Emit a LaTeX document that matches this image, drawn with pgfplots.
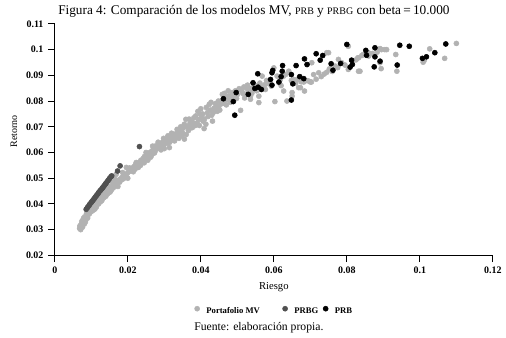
\documentclass[border=0pt]{standalone}
\usepackage{fontspec}
\setmainfont{Liberation Serif}
\usepackage{pgfplots}
\pgfplotsset{compat=1.18}
\definecolor{mvgray}{RGB}{178,178,178}
\definecolor{prbggray}{RGB}{80,80,80}
\begin{document}
\begin{tikzpicture}
\begin{axis}[
  name=ax,
  at={(0,0)}, anchor=south west,
  width=330pt, height=174.375pt, scale only axis,
  xmin=0, xmax=0.12, ymin=0.02, ymax=0.11,
  axis x line*=bottom, axis y line*=left,
  axis line style={black, line width=0.7pt, -},
  tick align=outside, major tick length=5pt,
  tick style={black, line width=0.7pt},
  scaled ticks=false,
  xtick={0,0.02,0.04,0.06,0.08,0.1,0.12},
  xticklabels={0,0.02,0.04,0.06,0.08,0.1,0.12},
  ytick={0.02,0.03,0.04,0.05,0.06,0.07,0.08,0.09,0.1,0.11},
  yticklabels={0.02,0.03,0.04,0.05,0.06,0.07,0.08,0.09,0.1,0.11},
  ticklabel style={font=\bfseries\fontsize{7.5}{9}\selectfont},
  clip=false,
  legend columns=3,
  legend style={draw=none, fill=none, at={(0.502,-0.243)}, anchor=center,
    font=\bfseries\fontsize{6.5}{8}\selectfont,
    /tikz/every even column/.append style={column sep=1.5pt}},
  legend image code/.code={\draw[#1] plot coordinates {(0pt,2.2pt)}; \path[draw=none, fill=none] (-2pt,0pt) -- (5pt,0pt);},
]
\addplot[only marks, mark=*, mark size=1.9pt, color=mvgray] coordinates {
(0.0068,0.0305)(0.0070,0.0312)(0.0072,0.0320)(0.0071,0.0300)(0.0075,0.0318)(0.0078,0.0326)(0.0074,0.0332)(0.0080,0.0335)(0.0083,0.0340)(0.0079,0.0345)(0.0086,0.0348)(0.0088,0.0355)(0.0084,0.0330)(0.0091,0.0360)(0.0093,0.0368)(0.0096,0.0372)(0.0090,0.0345)(0.0099,0.0378)(0.0102,0.0385)(0.0105,0.0383)(0.0108,0.0392)(0.0111,0.0398)(0.0114,0.0388)(0.0117,0.0405)(0.0120,0.0410)
(0.0069,0.0315)(0.0073,0.0308)(0.0076,0.0310)(0.0077,0.0338)(0.0081,0.0322)(0.0085,0.0338)(0.0082,0.0350)(0.0087,0.0362)
(0.0090,0.0352)(0.0095,0.0362)(0.0100,0.0370)(0.0105,0.0375)(0.0110,0.0380)(0.0115,0.0395)(0.0120,0.0400)(0.0125,0.0408)(0.0130,0.0420)(0.0135,0.0425)(0.0140,0.0430)(0.0145,0.0440)(0.0150,0.0445)(0.0155,0.0455)(0.0160,0.0462)(0.0165,0.0470)(0.0170,0.0475)(0.0178,0.0485)(0.0185,0.0495)(0.0190,0.0500)(0.0098,0.0390)(0.0108,0.0405)(0.0118,0.0420)(0.0128,0.0435)(0.0138,0.0452)(0.0148,0.0468)(0.0158,0.0483)(0.0166,0.0495)
(0.0123,0.0416)(0.0126,0.0420)(0.0129,0.0413)(0.0132,0.0428)(0.0135,0.0434)(0.0138,0.0440)(0.0141,0.0436)(0.0144,0.0447)(0.0147,0.0452)(0.0150,0.0456)(0.0153,0.0449)(0.0156,0.0462)(0.0159,0.0470)(0.0162,0.0475)(0.0166,0.0480)(0.0170,0.0486)(0.0173,0.0468)(0.0176,0.0492)(0.0180,0.0497)(0.0184,0.0503)(0.0188,0.0510)(0.0192,0.0515)(0.0196,0.0509)(0.0200,0.0500)(0.0200,0.0522)(0.0205,0.0527)(0.0209,0.0533)(0.0213,0.0540)(0.0217,0.0545)(0.0221,0.0552)(0.0225,0.0557)(0.0229,0.0542)(0.0232,0.0562)
(0.0160,0.0505)(0.0168,0.0515)(0.0186,0.0522)(0.0196,0.0542)(0.0223,0.0561)
(0.0205,0.0540)(0.0215,0.0525)(0.0220,0.0535)(0.0235,0.0550)(0.0245,0.0560)(0.0250,0.0600)(0.0255,0.0570)(0.0265,0.0590)(0.0268,0.0625)(0.0275,0.0605)(0.0283,0.0640)(0.0290,0.0625)(0.0298,0.0655)(0.0300,0.0615)(0.0310,0.0665)(0.0315,0.0640)(0.0320,0.0675)(0.0328,0.0645)(0.0335,0.0690)(0.0340,0.0655)(0.0345,0.0700)(0.0348,0.0665)
(0.0236,0.0570)(0.0240,0.0565)(0.0243,0.0578)(0.0246,0.0585)(0.0250,0.0575)(0.0254,0.0593)(0.0257,0.0588)(0.0260,0.0600)(0.0263,0.0582)(0.0266,0.0606)(0.0270,0.0612)(0.0273,0.0598)(0.0277,0.0626)(0.0280,0.0615)(0.0284,0.0622)(0.0288,0.0632)(0.0291,0.0610)(0.0295,0.0640)(0.0299,0.0628)(0.0302,0.0645)(0.0305,0.0652)(0.0309,0.0636)(0.0312,0.0660)(0.0314,0.0619)(0.0318,0.0648)(0.0322,0.0664)(0.0326,0.0656)(0.0330,0.0672)(0.0334,0.0660)(0.0338,0.0680)(0.0342,0.0668)(0.0346,0.0688)(0.0350,0.0676)(0.0355,0.0652)(0.0352,0.0695)
(0.0355,0.0710)(0.0360,0.0670)(0.0368,0.0730)(0.0372,0.0695)(0.0380,0.0715)(0.0385,0.0705)(0.0392,0.0760)(0.0396,0.0705)(0.0400,0.0770)(0.0405,0.0750)(0.0410,0.0730)(0.0415,0.0775)(0.0420,0.0740)(0.0428,0.0795)(0.0434,0.0755)(0.0442,0.0775)(0.0448,0.0800)(0.0452,0.0765)(0.0458,0.0790)(0.0465,0.0830)(0.0470,0.0785)(0.0475,0.0840)(0.0483,0.0815)(0.0488,0.0805)(0.0493,0.0828)(0.0498,0.0810)
(0.0359,0.0729)(0.0362,0.0700)(0.0366,0.0685)(0.0370,0.0712)(0.0374,0.0720)(0.0377,0.0697)(0.0381,0.0735)(0.0386,0.0742)(0.0390,0.0715)(0.0394,0.0728)(0.0398,0.0750)(0.0402,0.0738)(0.0406,0.0722)(0.0409,0.0693)(0.0414,0.0710)(0.0418,0.0755)(0.0423,0.0787)(0.0426,0.0765)(0.0430,0.0745)(0.0432,0.0722)(0.0436,0.0772)(0.0440,0.0790)(0.0445,0.0760)(0.0450,0.0781)(0.0455,0.0800)(0.0459,0.0826)(0.0463,0.0792)(0.0468,0.0815)(0.0472,0.0805)(0.0477,0.0820)(0.0481,0.0795)(0.0486,0.0833)(0.0490,0.0815)(0.0495,0.0840)(0.0500,0.0825)
(0.0512,0.0840)(0.0518,0.0855)(0.0523,0.0825)(0.0528,0.0862)(0.0533,0.0850)(0.0540,0.0830)(0.0545,0.0858)(0.0553,0.0840)(0.0562,0.0870)(0.0570,0.0858)(0.0580,0.0880)
(0.0505,0.0848)(0.0509,0.0764)(0.0509,0.0845)(0.0515,0.0830)(0.0520,0.0812)(0.0525,0.0850)(0.0530,0.0838)(0.0536,0.0819)(0.0536,0.0807)(0.0542,0.0845)(0.0550,0.0860)(0.0559,0.0819)(0.0559,0.0794)(0.0565,0.0852)(0.0568,0.0897)(0.0577,0.0865)(0.0577,0.0845)(0.0585,0.0870)(0.0593,0.0858)(0.0600,0.0929)(0.0603,0.0798)(0.0609,0.0897)(0.0614,0.0871)(0.0620,0.0860)(0.0627,0.0897)(0.0636,0.0800)(0.0641,0.0916)(0.0648,0.0880)(0.0654,0.0884)(0.0660,0.0870)(0.0668,0.0852)(0.0675,0.0875)(0.0684,0.0839)(0.0690,0.0880)(0.0695,0.0878)(0.0703,0.0874)
(0.0632,0.0903)(0.0664,0.0884)(0.0682,0.0874)(0.0700,0.0874)(0.0704,0.0949)(0.0750,0.0988)(0.0777,0.0962)(0.0804,0.0923)(0.0832,0.0916)(0.0830,0.0968)(0.0841,0.0977)(0.0859,0.0988)(0.0891,0.1004)(0.0904,0.1000)(0.0891,0.0949)(0.0673,0.0852)(0.0650,0.0833)(0.0650,0.0819)(0.0627,0.0839)(0.0618,0.0884)
(0.0709,0.0903)(0.0716,0.0885)(0.0723,0.0910)(0.0730,0.0895)(0.0738,0.0905)(0.0745,0.0912)(0.0745,0.0988)(0.0752,0.0925)(0.0760,0.0915)(0.0768,0.0936)(0.0775,0.0930)(0.0786,0.0949)(0.0795,0.0940)(0.0804,0.1013)(0.0815,0.0955)(0.0825,0.0960)(0.0832,0.0968)(0.0836,0.0916)(0.0845,0.0981)(0.0860,0.0975)(0.0870,0.0985)(0.0883,0.0990)(0.0894,0.0926)(0.0895,0.1000)(0.0909,0.1000)(0.0934,0.0981)(0.0937,0.0916)(0.1009,0.0951)(0.1012,0.0958)(0.1027,0.1003)(0.1068,0.0966)(0.1100,0.1024)
};
\addlegendentry{\mbox{Portafolio MV\hspace{13.5pt}}}
\addplot[only marks, mark=*, mark size=1.9pt, color=prbggray] coordinates {
(0.0086,0.0379)(0.0089,0.0385)(0.0091,0.0389)(0.0094,0.0394)(0.0096,0.0399)(0.0099,0.0404)(0.0101,0.0408)(0.0104,0.0413)(0.0106,0.0417)(0.0109,0.0422)(0.0111,0.0427)(0.0114,0.0432)(0.0116,0.0436)(0.0119,0.0441)(0.0121,0.0446)(0.0124,0.0451)(0.0126,0.0454)(0.0129,0.0459)(0.0131,0.0463)(0.0134,0.0468)(0.0136,0.0472)(0.0139,0.0478)(0.0141,0.0482)(0.0144,0.0487)(0.0146,0.0491)(0.0149,0.0497)(0.0151,0.0501)(0.0154,0.0506)(0.0156,0.0509)
(0.0172,0.0528)(0.0179,0.0548)(0.0232,0.0623)
};
\addlegendentry{PRBG}
\addplot[only marks, mark=*, mark size=1.9pt, color=black] coordinates {
(0.0800,0.1020)(0.0877,0.1007)(0.0945,0.1017)(0.0971,0.1013)(0.1071,0.1022)(0.1041,0.0988)(0.1018,0.0972)(0.1007,0.0966)(0.0938,0.0940)(0.0891,0.0955)(0.0877,0.0972)(0.0875,0.0933)(0.0852,0.0997)(0.0854,0.0978)(0.0813,0.0959)(0.0815,0.0942)(0.0809,0.0932)(0.0783,0.0946)(0.0757,0.0945)(0.0762,0.0920)(0.0734,0.0977)(0.0727,0.0959)(0.0716,0.0984)(0.0684,0.0964)(0.0691,0.0942)(0.0661,0.0938)(0.0624,0.0938)(0.0623,0.0916)(0.0597,0.0919)(0.0595,0.0910)(0.0556,0.0906)(0.0648,0.0903)(0.0671,0.0895)(0.0682,0.0887)(0.0620,0.0895)(0.0591,0.0884)(0.0595,0.0862)(0.0652,0.0867)(0.0543,0.0871)(0.0548,0.0849)(0.0557,0.0854)(0.0566,0.0845)(0.0530,0.0826)(0.0497,0.0833)(0.0462,0.0809)(0.0489,0.0798)(0.0493,0.0745)(0.0648,0.0804)(0.0614,0.0874)
};
\addlegendentry{PRB}
\end{axis}
\path ([shift={(-41.25pt,-61.875pt)}]ax.south west) rectangle ([shift={(8.25pt,18pt)}]ax.north east);
\node[anchor=base, font=\fontsize{10}{12}\selectfont, inner sep=0pt] at ([shift={(-15pt,6.75pt)}]ax.north)
  {Figura 4: Comparación de los modelos MV, {\fontsize{7.5}{9}\selectfont PRB} y {\fontsize{7.5}{9}\selectfont PRBG} con beta\,=\,10.000};
\node[rotate=90, font=\fontsize{7.5}{9}\selectfont, inner sep=0pt] at ([shift={(-30.75pt,6.2pt)}]ax.west) {Retorno};
\node[font=\fontsize{8}{10}\selectfont, inner sep=0pt] at ([shift={(0pt,-23.6pt)}]ax.south) {Riesgo};
\node[anchor=base, font=\fontsize{8.8}{10}\selectfont, inner sep=0pt] at ([shift={(-11.25pt,-56.6pt)}]ax.south) {Fuente: elaboración propia.};
\end{tikzpicture}
\end{document}
